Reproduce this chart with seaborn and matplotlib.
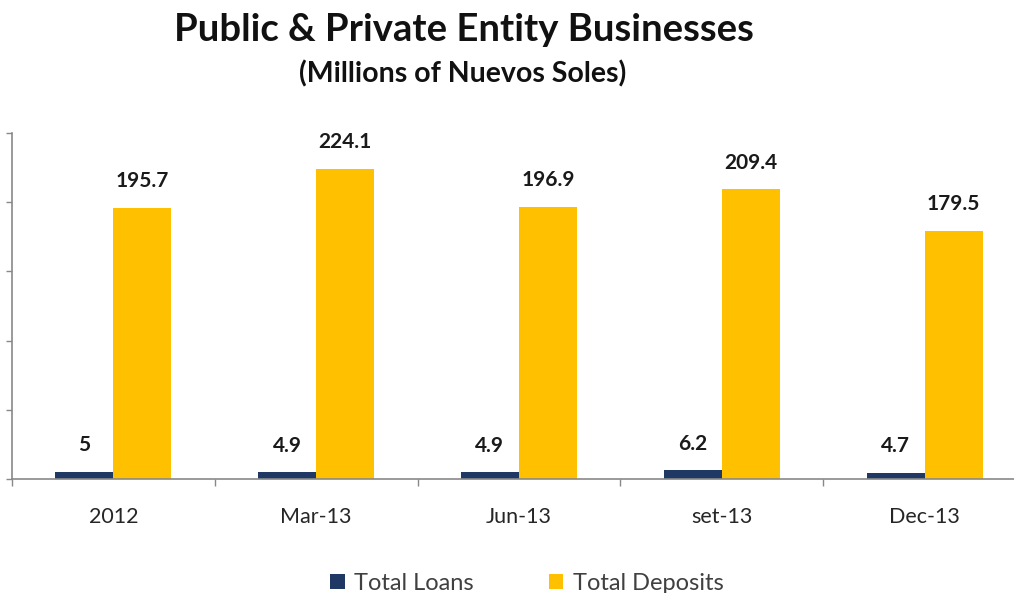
import matplotlib
matplotlib.use("Agg")
import matplotlib.pyplot as plt
import seaborn as sns
import pandas as pd
import numpy as np

periods = ["2012", "Mar-13", "Jun-13", "set-13", "Dec-13"]
total_loans = [5, 4.9, 4.9, 6.2, 4.7]
total_deposits = [195.7, 224.1, 196.9, 209.4, 179.5]
series_names = ["Total Loans", "Total Deposits"]
series_colors = ["#1F3864", "#FFC000"]

df = pd.DataFrame({
    "period": periods * 2,
    "value": total_loans + total_deposits,
    "series": [series_names[0]] * len(periods) + [series_names[1]] * len(periods),
})

sns.set_theme(style="white")
plt.rcParams["font.family"] = ["Lato", "DejaVu Sans"]

fig = plt.figure(figsize=(10.14, 5.93), dpi=100)
ax = fig.add_axes([0.0118, 0.1922, 1.0, 0.5835])

sns.barplot(data=df, x="period", y="value", hue="series", order=periods,
            hue_order=series_names, palette=series_colors, width=0.572,
            gap=0, saturation=1, linewidth=0, ax=ax, legend=True)

ax.set_ylim(0, 250)
ax.set_xlim(-0.5, len(periods) - 0.5)
ax.set_yticks(np.arange(0, 251, 50))
ax.set_yticklabels([])
ax.set_xlabel("")
ax.set_ylabel("")

for s in ["top", "right"]:
    ax.spines[s].set_visible(False)
for s in ["left", "bottom"]:
    ax.spines[s].set_color("#898989")
    ax.spines[s].set_linewidth(1.2)

ax.tick_params(axis="y", which="major", left=True, length=4, width=1,
               color="#898989", direction="out")
ax.tick_params(axis="x", which="major", length=0, pad=20, labelsize=15.5,
               labelcolor="#262626")
ax.set_xticks(np.arange(-0.5, len(periods), 1.0), minor=True)
ax.tick_params(axis="x", which="minor", bottom=True, length=5, width=1,
               color="#898989", direction="out")

for cont in ax.containers:
    labels = [f"{v:g}" for v in cont.datavalues]
    ax.bar_label(cont, labels=labels, padding=12, fontsize=15,
                 fontweight="bold", color="#1a1a1a")

leg = ax.legend(loc="center", ncol=2, frameon=False, fontsize=17,
                handlelength=0.6, handleheight=0.6, handletextpad=0.4,
                columnspacing=3.2)
for t in leg.get_texts():
    t.set_color("#404040")
leg.set_bbox_to_anchor((527 / 1014, 1 - 583 / 593), transform=fig.transFigure)

fig.text(464 / 1014, 1 - 30 / 593, "Public & Private Entity Businesses",
         ha="center", va="center", fontsize=27.5, fontweight="bold", color="#111111")
fig.text(463 / 1014, 1 - 74 / 593, "(Millions of Nuevos Soles)",
         ha="center", va="center", fontsize=20.5, fontweight="bold", color="#111111")

fig.savefig("out.png", dpi=100)
